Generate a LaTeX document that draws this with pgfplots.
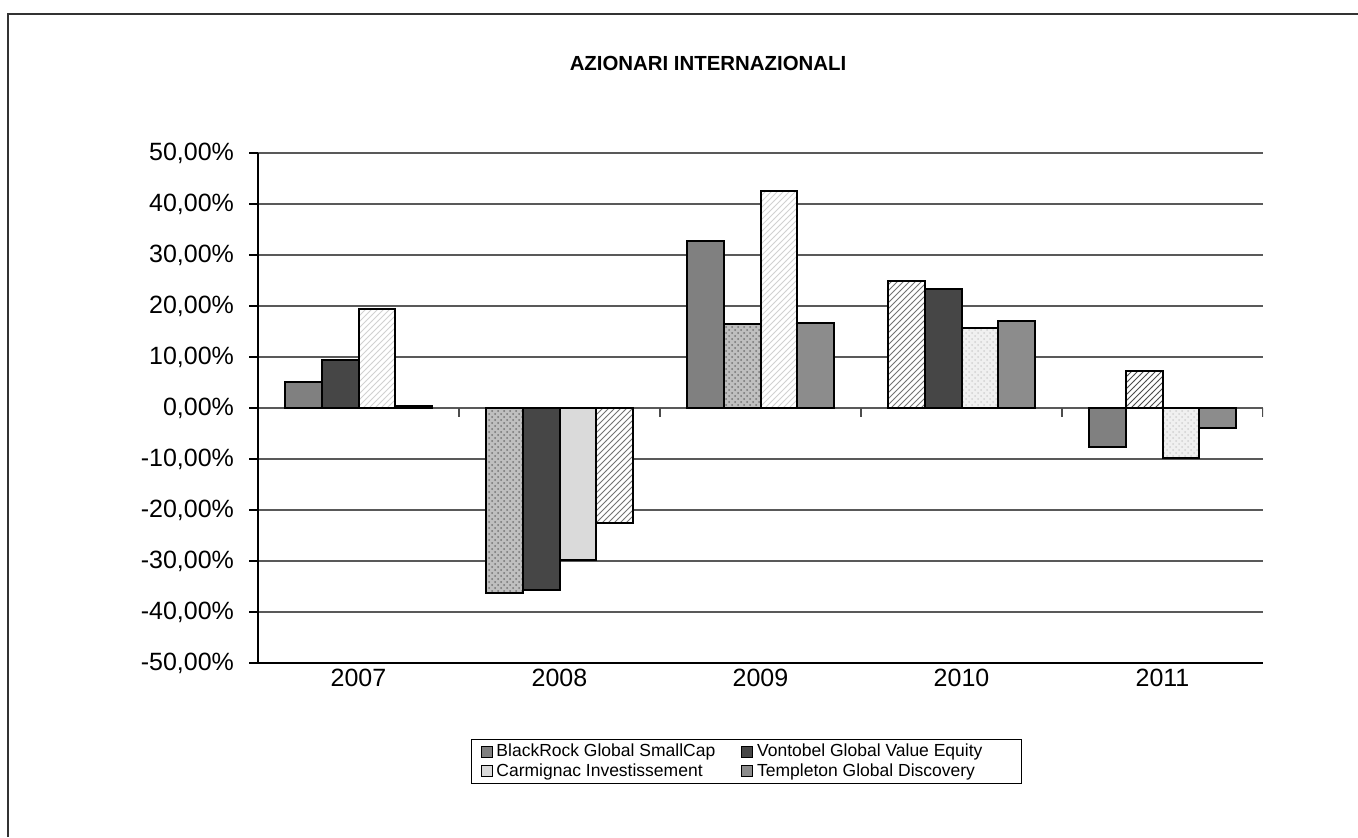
\documentclass[border=0pt]{standalone}
\usepackage{pgfplots}
\pgfplotsset{compat=1.18}
\usetikzlibrary{patterns}
\usepackage{fontspec}
\setmainfont{Liberation Sans}

\definecolor{brgray}{HTML}{808080}
\definecolor{vodark}{HTML}{464646}
\definecolor{calight}{HTML}{DADADA}
\definecolor{tegray}{HTML}{8C8C8C}

\begin{document}
\begin{tikzpicture}
  \path[use as bounding box] (0,0) rectangle (679pt,418.5pt);
  \draw[line width=0.9pt, black!80] (4pt,0) -- (4pt,411.5pt) -- (679pt,411.5pt);

  \node[font=\bfseries\fontsize{10.2}{12}\selectfont] at (354pt,387pt) {AZIONARI INTERNAZIONALI};

  \begin{axis}
    [
      at           = {(129pt,87pt)},
      anchor       = south west,
      scale only axis,
      width        = 502.5pt,
      height       = 255pt,
      ybar,
      bar width    = 0.184,
      ymin         = -50,
      ymax         = 50,
      ytick        = {-50,-40,...,50},
      xmin         = -0.5,
      xmax         = 4.5,
      xtick        = {0,1,2,3,4},
      xticklabels  = {2007,2008,2009,2010,2011},
      axis x line* = bottom,
      axis y line* = left,
      axis line style = {black, line width=0.7pt},
      ymajorgrids,
      grid style   = {black!65, line width=0.7pt},
      ytick align  = outside,
      major tick length = 4.5pt,
      major x tick style = {draw=none},
      ytick style  = {black, line width=0.7pt},
      tick label style = {font=\fontsize{12.5}{15}\selectfont},
      /pgf/number format/assume math mode=true,
      yticklabel   = {\pgfmathprintnumber[fixed,fixed zerofill,precision=2,use comma]{\tick}\%},
      yticklabel style = {xshift=-4pt},
      xticklabel style = {yshift=5pt},
      legend columns = 2,
      legend style = {at={(0.212,-0.149)}, anchor=north west, draw=black, line width=0.6pt,
                      font=\fontsize{8.75}{10.5}\selectfont, inner xsep=4.5pt, inner ysep=1.4pt,
                      nodes={inner ysep=0.9pt},
                      /tikz/every even column/.append style={column sep=11pt}},
      legend cell align = left,
      legend image code/.code={\draw[#1, line width=0.4pt, draw=black] (0pt,-2.75pt) rectangle (5.5pt,2.75pt);},
    ]
    % BlackRock Global SmallCap
    \addplot[bar shift=-0.276, draw=black, line width=1pt, fill=brgray]
      coordinates {(0,5.1) (2,32.7) (4,-7.7)};
    \addlegendentry{BlackRock Global SmallCap}
    % Vontobel Global Value Equity
    \addplot[bar shift=-0.092, draw=black, line width=1pt, fill=vodark]
      coordinates {(0,9.5) (1,-35.7) (3,23.4)};
    \addlegendentry{Vontobel Global Value Equity\hspace*{13pt}}
    % Carmignac Investissement
    \addplot[bar shift=0.092, draw=black, line width=1pt, fill=calight]
      coordinates {(1,-29.9)};
    \addlegendentry{Carmignac Investissement}
    % Templeton Global Discovery
    \addplot[bar shift=0.276, draw=black, line width=1pt, fill=tegray]
      coordinates {(0,0.4) (2,16.7) (3,17.0) (4,-4.0)};
    \addlegendentry{Templeton Global Discovery}

    % same series, patterned points
    \addplot[forget plot, bar shift=-0.276, draw=black, line width=1pt, fill=black!25,
      postaction={pattern=crosshatch dots, pattern color=black!55}]
      coordinates {(1,-36.3)};
    \addplot[forget plot, bar shift=-0.276, draw=black, line width=1pt, fill=white,
      postaction={pattern=north east lines, pattern color=black!55}]
      coordinates {(3,24.9)};
    \addplot[forget plot, bar shift=-0.092, draw=black, line width=1pt, fill=black!25,
      postaction={pattern=crosshatch dots, pattern color=black!55}]
      coordinates {(2,16.4)};
    \addplot[forget plot, bar shift=-0.092, draw=black, line width=1pt, fill=white,
      postaction={pattern=north east lines, pattern color=black!70}]
      coordinates {(4,7.3)};
    \addplot[forget plot, bar shift=0.092, draw=black, line width=1pt, fill=white,
      postaction={pattern=north east lines, pattern color=black!18}]
      coordinates {(0,19.5) (2,42.5)};
    \addplot[forget plot, bar shift=0.092, draw=black, line width=1pt, fill=black!6,
      postaction={pattern=crosshatch dots, pattern color=black!18}]
      coordinates {(3,15.7) (4,-9.8)};
    \addplot[forget plot, bar shift=0.276, draw=black, line width=1pt, fill=white,
      postaction={pattern=north east lines, pattern color=black!55}]
      coordinates {(1,-22.5)};

    \pgfplotsinvokeforeach{0.5,1.5,2.5,3.5,4.5}{
      \draw[black!70, line width=0.7pt] (axis cs:#1,0) -- ([yshift=-4.5pt]axis cs:#1,0);
    }
  \end{axis}
\end{tikzpicture}
\end{document}
